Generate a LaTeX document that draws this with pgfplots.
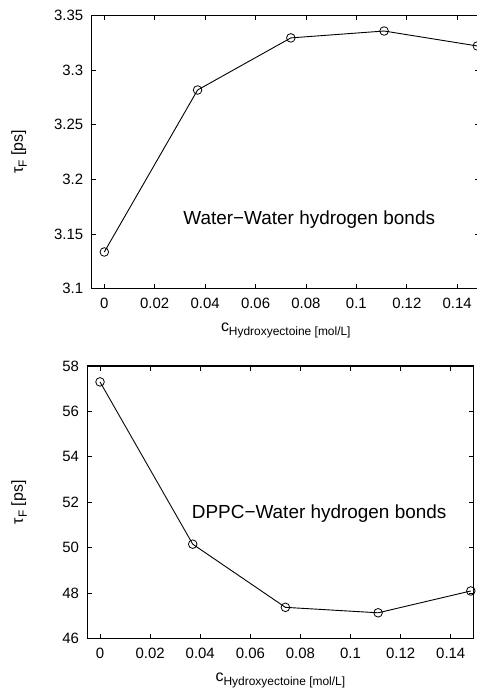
\documentclass[border=0pt]{standalone}
\usepackage{fontspec}
\setmainfont{Liberation Sans}
\usepackage{pgfplots}
\pgfplotsset{compat=1.18}
\pgfplotstableread{
x y
0 3.1336
0.037 3.2818
0.074 3.3295
0.111 3.3358
0.148 3.3221
}\topdata
\pgfplotstableread{
x y
0 57.30
0.037 50.16
0.074 47.38
0.111 47.14
0.148 48.10
}\botdata
\pgfplotsset{
  common/.style={
    scale only axis,
    anchor=south west,
    xmin=-0.005, xmax=0.149,
    clip=false,
    axis line style={line width=1.2bp},
    tick align=inside,
    major tick length=4.7bp,
    tick style={line width=0.9bp, black},
    /pgf/number format/assume math mode=true,
    ticklabel style={font=\fontsize{15}{18}\selectfont},
    xtick={0,0.02,0.04,0.06,0.08,0.1,0.12,0.14},
    xticklabels={0,0.02,0.04,0.06,0.08,0.1,0.12,0.14},
    scaled x ticks=false, scaled y ticks=false,
    xticklabel style={yshift=-6bp},
    yticklabel style={xshift=-5bp},
    xlabel={c\raisebox{-4bp}{\fontsize{12}{14}\selectfont Hydroxyectoine [mol/L]}},
    xlabel style={at={(axis description cs:0.5,0)}, anchor=base, yshift=-43bp, font=\fontsize{16}{19}\selectfont},
    ylabel={τ\raisebox{-4bp}{\fontsize{12}{14}\selectfont F} [ps]},
  },
  datastyle/.style={line width=0.9bp, black, mark=o, mark size=4.3bp, mark options={line width=0.8bp, solid, fill=none, draw=black}},
}
\begin{document}
\begin{tikzpicture}
\useasboundingbox (0,0) rectangle (477bp,688bp);
\begin{axis}[common,
  at={(91.7bp,399.3bp)}, width=388.2bp, height=273.2bp,
  ymin=3.1, ymax=3.35,
  ytick={3.1,3.15,3.2,3.25,3.3,3.35},
  yticklabels={3.1,3.15,3.2,3.25,3.3,3.35},
  ylabel style={at={(axis description cs:-0.1873,0.5)}, anchor=center, font=\fontsize{16}{19}\selectfont},
]
\addplot[datastyle] table[x=x,y=y] {\topdata};
\node[anchor=base west, inner sep=0pt, font=\fontsize{19}{22}\selectfont] at (axis cs:0.0313,3.1589) {Water−Water hydrogen bonds};
\end{axis}
\begin{axis}[common,
  at={(87.5bp,49.3bp)}, width=385.8bp, height=272.7bp,
  ymin=46, ymax=58,
  ytick={46,48,50,52,54,56,58},
  yticklabels={46,48,50,52,54,56,58},
  ylabel style={at={(axis description cs:-0.1776,0.5)}, anchor=center, font=\fontsize{16}{19}\selectfont},
]
\addplot[datastyle] table[x=x,y=y] {\botdata};
\node[anchor=base west, inner sep=0pt, font=\fontsize{19}{22}\selectfont] at (axis cs:0.0366,51.31) {DPPC−Water hydrogen bonds};
\end{axis}
\end{tikzpicture}
\end{document}
